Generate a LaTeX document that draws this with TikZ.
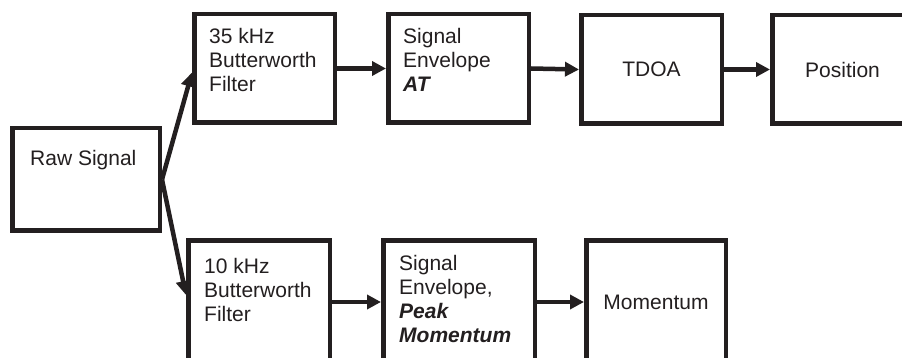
\documentclass[tikz,border=0pt]{standalone}
\usepackage{fontspec}
\setmainfont{Liberation Sans}
\usetikzlibrary{arrows.meta}
\definecolor{ink}{HTML}{231F20}
\begin{document}
\begin{tikzpicture}[x=1pt,y=-1pt,
  box/.style={draw=ink, line width=4.5pt, minimum width=#1, inner sep=0pt, font=\fontsize{21}{24}\selectfont},
  box/.default=140.5pt,
  lbl/.style={anchor=north west, inner sep=0pt, align=left, text=ink, font=\fontsize{21}{24}\selectfont},
  arr/.style={draw=ink, line width=4.5pt, -{Triangle[length=14pt,width=14pt]}}]
\useasboundingbox (0,0) rectangle (902,358);
\fill[white] (0,0) rectangle (902,358);
\clip (0,0) rectangle (902,358);
% boxes
\node[box=147.5pt, minimum height=102.5pt] (raw) at (86,179.5) {};
\node[box, minimum height=108.5pt] (f35) at (264.5,68.5) {};
\node[box, minimum height=108.5pt] (seat) at (458.5,68.5) {};
\node[box, minimum height=108.5pt, text=ink] (tdoa) at (651.5,69.5) {TDOA};
\node[box, minimum height=108.5pt, text=ink] (pos) at (842.5,69.5) {Position};
\node[box=141.5pt, minimum height=123.5pt] (f10) at (259,302) {};
\node[box=151.5pt, minimum height=123.5pt] (sepm) at (459,302) {};
\node[box=139.5pt, minimum height=123.5pt, text=ink] (mom) at (656,302) {Momentum};
% texts
\node[lbl] (traw) at (30,150) {Raw Signal};
\node[lbl] (tf35) at (209,28) {35 kHz\\Butterworth\\Filter};
\node[lbl] (tseat) at (403,28) {Signal\\Envelope\\\textbf{\textit{AT}}};
\node[lbl] (tf10) at (204,258) {10 kHz\\Butterworth\\Filter};
\node[lbl] (tsepm) at (399,255) {Signal\\Envelope,\\\textbf{\textit{Peak}}\\\textbf{\textit{Momentum}}};
% connectors
\draw[arr] (raw.east) -- ([yshift=-4pt]f35.west);
\draw[arr] (raw.east) -- ([yshift=7pt]f10.west);
\draw[arr] (f35.east) -- (seat.west);
\draw[arr] (seat.east) -- (tdoa.west);
\draw[arr] (tdoa.east) -- (pos.west);
\draw[arr] (f10.east) -- (sepm.west);
\draw[arr] (sepm.east) -- (mom.west);
\end{tikzpicture}
\end{document}
